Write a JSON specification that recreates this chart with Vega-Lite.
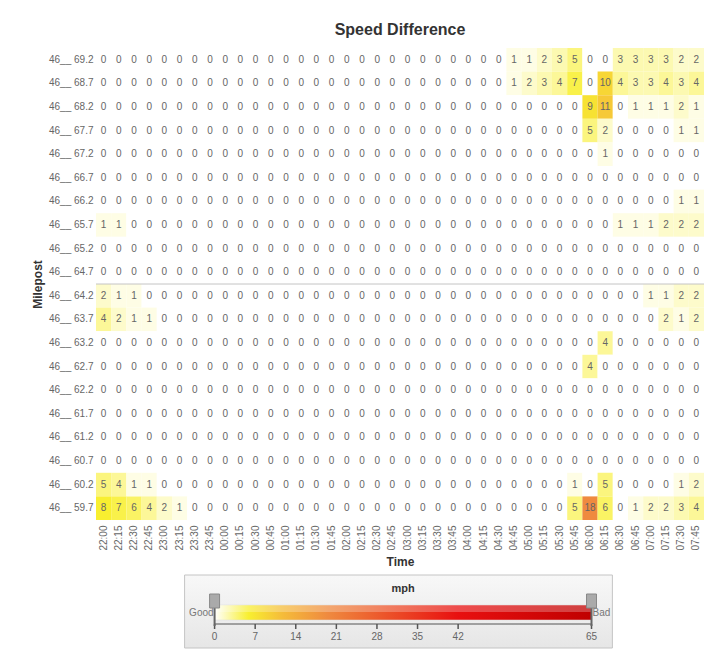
{
"$schema":"https://vega.github.io/schema/vega-lite/v6.json",
"padding":{"left":31,"top":22,"right":0,"bottom":0},
"background":"white",
"config":{"font":"Liberation Sans","view":{"stroke":null}},
"spacing":6,
"resolve":{"scale":{"x":"independent","y":"independent","color":"independent"}},
"vconcat":[
{
"title":{"text":"Speed Difference","fontSize":16,"fontWeight":"bold","color":"#333333","offset":10,"anchor":"middle"},
"width":608,"height":472,
"layer":[
{"data":{"values":[
{"m":"46__ 69.2","t":"22:00","v":0},{"m":"46__ 69.2","t":"22:15","v":0},{"m":"46__ 69.2","t":"22:30","v":0},{"m":"46__ 69.2","t":"22:45","v":0},{"m":"46__ 69.2","t":"23:00","v":0},{"m":"46__ 69.2","t":"23:15","v":0},{"m":"46__ 69.2","t":"23:30","v":0},{"m":"46__ 69.2","t":"23:45","v":0},{"m":"46__ 69.2","t":"00:00","v":0},{"m":"46__ 69.2","t":"00:15","v":0},{"m":"46__ 69.2","t":"00:30","v":0},{"m":"46__ 69.2","t":"00:45","v":0},{"m":"46__ 69.2","t":"01:00","v":0},{"m":"46__ 69.2","t":"01:15","v":0},{"m":"46__ 69.2","t":"01:30","v":0},{"m":"46__ 69.2","t":"01:45","v":0},{"m":"46__ 69.2","t":"02:00","v":0},{"m":"46__ 69.2","t":"02:15","v":0},{"m":"46__ 69.2","t":"02:30","v":0},{"m":"46__ 69.2","t":"02:45","v":0},{"m":"46__ 69.2","t":"03:00","v":0},{"m":"46__ 69.2","t":"03:15","v":0},{"m":"46__ 69.2","t":"03:30","v":0},{"m":"46__ 69.2","t":"03:45","v":0},{"m":"46__ 69.2","t":"04:00","v":0},{"m":"46__ 69.2","t":"04:15","v":0},{"m":"46__ 69.2","t":"04:30","v":0},{"m":"46__ 69.2","t":"04:45","v":1},{"m":"46__ 69.2","t":"05:00","v":1},{"m":"46__ 69.2","t":"05:15","v":2},{"m":"46__ 69.2","t":"05:30","v":3},{"m":"46__ 69.2","t":"05:45","v":5},{"m":"46__ 69.2","t":"06:00","v":0},{"m":"46__ 69.2","t":"06:15","v":0},{"m":"46__ 69.2","t":"06:30","v":3},{"m":"46__ 69.2","t":"06:45","v":3},{"m":"46__ 69.2","t":"07:00","v":3},{"m":"46__ 69.2","t":"07:15","v":3},{"m":"46__ 69.2","t":"07:30","v":2},{"m":"46__ 69.2","t":"07:45","v":2},
{"m":"46__ 68.7","t":"22:00","v":0},{"m":"46__ 68.7","t":"22:15","v":0},{"m":"46__ 68.7","t":"22:30","v":0},{"m":"46__ 68.7","t":"22:45","v":0},{"m":"46__ 68.7","t":"23:00","v":0},{"m":"46__ 68.7","t":"23:15","v":0},{"m":"46__ 68.7","t":"23:30","v":0},{"m":"46__ 68.7","t":"23:45","v":0},{"m":"46__ 68.7","t":"00:00","v":0},{"m":"46__ 68.7","t":"00:15","v":0},{"m":"46__ 68.7","t":"00:30","v":0},{"m":"46__ 68.7","t":"00:45","v":0},{"m":"46__ 68.7","t":"01:00","v":0},{"m":"46__ 68.7","t":"01:15","v":0},{"m":"46__ 68.7","t":"01:30","v":0},{"m":"46__ 68.7","t":"01:45","v":0},{"m":"46__ 68.7","t":"02:00","v":0},{"m":"46__ 68.7","t":"02:15","v":0},{"m":"46__ 68.7","t":"02:30","v":0},{"m":"46__ 68.7","t":"02:45","v":0},{"m":"46__ 68.7","t":"03:00","v":0},{"m":"46__ 68.7","t":"03:15","v":0},{"m":"46__ 68.7","t":"03:30","v":0},{"m":"46__ 68.7","t":"03:45","v":0},{"m":"46__ 68.7","t":"04:00","v":0},{"m":"46__ 68.7","t":"04:15","v":0},{"m":"46__ 68.7","t":"04:30","v":0},{"m":"46__ 68.7","t":"04:45","v":1},{"m":"46__ 68.7","t":"05:00","v":2},{"m":"46__ 68.7","t":"05:15","v":3},{"m":"46__ 68.7","t":"05:30","v":4},{"m":"46__ 68.7","t":"05:45","v":7},{"m":"46__ 68.7","t":"06:00","v":0},{"m":"46__ 68.7","t":"06:15","v":10},{"m":"46__ 68.7","t":"06:30","v":4},{"m":"46__ 68.7","t":"06:45","v":3},{"m":"46__ 68.7","t":"07:00","v":3},{"m":"46__ 68.7","t":"07:15","v":4},{"m":"46__ 68.7","t":"07:30","v":3},{"m":"46__ 68.7","t":"07:45","v":4},
{"m":"46__ 68.2","t":"22:00","v":0},{"m":"46__ 68.2","t":"22:15","v":0},{"m":"46__ 68.2","t":"22:30","v":0},{"m":"46__ 68.2","t":"22:45","v":0},{"m":"46__ 68.2","t":"23:00","v":0},{"m":"46__ 68.2","t":"23:15","v":0},{"m":"46__ 68.2","t":"23:30","v":0},{"m":"46__ 68.2","t":"23:45","v":0},{"m":"46__ 68.2","t":"00:00","v":0},{"m":"46__ 68.2","t":"00:15","v":0},{"m":"46__ 68.2","t":"00:30","v":0},{"m":"46__ 68.2","t":"00:45","v":0},{"m":"46__ 68.2","t":"01:00","v":0},{"m":"46__ 68.2","t":"01:15","v":0},{"m":"46__ 68.2","t":"01:30","v":0},{"m":"46__ 68.2","t":"01:45","v":0},{"m":"46__ 68.2","t":"02:00","v":0},{"m":"46__ 68.2","t":"02:15","v":0},{"m":"46__ 68.2","t":"02:30","v":0},{"m":"46__ 68.2","t":"02:45","v":0},{"m":"46__ 68.2","t":"03:00","v":0},{"m":"46__ 68.2","t":"03:15","v":0},{"m":"46__ 68.2","t":"03:30","v":0},{"m":"46__ 68.2","t":"03:45","v":0},{"m":"46__ 68.2","t":"04:00","v":0},{"m":"46__ 68.2","t":"04:15","v":0},{"m":"46__ 68.2","t":"04:30","v":0},{"m":"46__ 68.2","t":"04:45","v":0},{"m":"46__ 68.2","t":"05:00","v":0},{"m":"46__ 68.2","t":"05:15","v":0},{"m":"46__ 68.2","t":"05:30","v":0},{"m":"46__ 68.2","t":"05:45","v":0},{"m":"46__ 68.2","t":"06:00","v":9},{"m":"46__ 68.2","t":"06:15","v":11},{"m":"46__ 68.2","t":"06:30","v":0},{"m":"46__ 68.2","t":"06:45","v":1},{"m":"46__ 68.2","t":"07:00","v":1},{"m":"46__ 68.2","t":"07:15","v":1},{"m":"46__ 68.2","t":"07:30","v":2},{"m":"46__ 68.2","t":"07:45","v":1},
{"m":"46__ 67.7","t":"22:00","v":0},{"m":"46__ 67.7","t":"22:15","v":0},{"m":"46__ 67.7","t":"22:30","v":0},{"m":"46__ 67.7","t":"22:45","v":0},{"m":"46__ 67.7","t":"23:00","v":0},{"m":"46__ 67.7","t":"23:15","v":0},{"m":"46__ 67.7","t":"23:30","v":0},{"m":"46__ 67.7","t":"23:45","v":0},{"m":"46__ 67.7","t":"00:00","v":0},{"m":"46__ 67.7","t":"00:15","v":0},{"m":"46__ 67.7","t":"00:30","v":0},{"m":"46__ 67.7","t":"00:45","v":0},{"m":"46__ 67.7","t":"01:00","v":0},{"m":"46__ 67.7","t":"01:15","v":0},{"m":"46__ 67.7","t":"01:30","v":0},{"m":"46__ 67.7","t":"01:45","v":0},{"m":"46__ 67.7","t":"02:00","v":0},{"m":"46__ 67.7","t":"02:15","v":0},{"m":"46__ 67.7","t":"02:30","v":0},{"m":"46__ 67.7","t":"02:45","v":0},{"m":"46__ 67.7","t":"03:00","v":0},{"m":"46__ 67.7","t":"03:15","v":0},{"m":"46__ 67.7","t":"03:30","v":0},{"m":"46__ 67.7","t":"03:45","v":0},{"m":"46__ 67.7","t":"04:00","v":0},{"m":"46__ 67.7","t":"04:15","v":0},{"m":"46__ 67.7","t":"04:30","v":0},{"m":"46__ 67.7","t":"04:45","v":0},{"m":"46__ 67.7","t":"05:00","v":0},{"m":"46__ 67.7","t":"05:15","v":0},{"m":"46__ 67.7","t":"05:30","v":0},{"m":"46__ 67.7","t":"05:45","v":0},{"m":"46__ 67.7","t":"06:00","v":5},{"m":"46__ 67.7","t":"06:15","v":2},{"m":"46__ 67.7","t":"06:30","v":0},{"m":"46__ 67.7","t":"06:45","v":0},{"m":"46__ 67.7","t":"07:00","v":0},{"m":"46__ 67.7","t":"07:15","v":0},{"m":"46__ 67.7","t":"07:30","v":1},{"m":"46__ 67.7","t":"07:45","v":1},
{"m":"46__ 67.2","t":"22:00","v":0},{"m":"46__ 67.2","t":"22:15","v":0},{"m":"46__ 67.2","t":"22:30","v":0},{"m":"46__ 67.2","t":"22:45","v":0},{"m":"46__ 67.2","t":"23:00","v":0},{"m":"46__ 67.2","t":"23:15","v":0},{"m":"46__ 67.2","t":"23:30","v":0},{"m":"46__ 67.2","t":"23:45","v":0},{"m":"46__ 67.2","t":"00:00","v":0},{"m":"46__ 67.2","t":"00:15","v":0},{"m":"46__ 67.2","t":"00:30","v":0},{"m":"46__ 67.2","t":"00:45","v":0},{"m":"46__ 67.2","t":"01:00","v":0},{"m":"46__ 67.2","t":"01:15","v":0},{"m":"46__ 67.2","t":"01:30","v":0},{"m":"46__ 67.2","t":"01:45","v":0},{"m":"46__ 67.2","t":"02:00","v":0},{"m":"46__ 67.2","t":"02:15","v":0},{"m":"46__ 67.2","t":"02:30","v":0},{"m":"46__ 67.2","t":"02:45","v":0},{"m":"46__ 67.2","t":"03:00","v":0},{"m":"46__ 67.2","t":"03:15","v":0},{"m":"46__ 67.2","t":"03:30","v":0},{"m":"46__ 67.2","t":"03:45","v":0},{"m":"46__ 67.2","t":"04:00","v":0},{"m":"46__ 67.2","t":"04:15","v":0},{"m":"46__ 67.2","t":"04:30","v":0},{"m":"46__ 67.2","t":"04:45","v":0},{"m":"46__ 67.2","t":"05:00","v":0},{"m":"46__ 67.2","t":"05:15","v":0},{"m":"46__ 67.2","t":"05:30","v":0},{"m":"46__ 67.2","t":"05:45","v":0},{"m":"46__ 67.2","t":"06:00","v":0},{"m":"46__ 67.2","t":"06:15","v":1},{"m":"46__ 67.2","t":"06:30","v":0},{"m":"46__ 67.2","t":"06:45","v":0},{"m":"46__ 67.2","t":"07:00","v":0},{"m":"46__ 67.2","t":"07:15","v":0},{"m":"46__ 67.2","t":"07:30","v":0},{"m":"46__ 67.2","t":"07:45","v":0},
{"m":"46__ 66.7","t":"22:00","v":0},{"m":"46__ 66.7","t":"22:15","v":0},{"m":"46__ 66.7","t":"22:30","v":0},{"m":"46__ 66.7","t":"22:45","v":0},{"m":"46__ 66.7","t":"23:00","v":0},{"m":"46__ 66.7","t":"23:15","v":0},{"m":"46__ 66.7","t":"23:30","v":0},{"m":"46__ 66.7","t":"23:45","v":0},{"m":"46__ 66.7","t":"00:00","v":0},{"m":"46__ 66.7","t":"00:15","v":0},{"m":"46__ 66.7","t":"00:30","v":0},{"m":"46__ 66.7","t":"00:45","v":0},{"m":"46__ 66.7","t":"01:00","v":0},{"m":"46__ 66.7","t":"01:15","v":0},{"m":"46__ 66.7","t":"01:30","v":0},{"m":"46__ 66.7","t":"01:45","v":0},{"m":"46__ 66.7","t":"02:00","v":0},{"m":"46__ 66.7","t":"02:15","v":0},{"m":"46__ 66.7","t":"02:30","v":0},{"m":"46__ 66.7","t":"02:45","v":0},{"m":"46__ 66.7","t":"03:00","v":0},{"m":"46__ 66.7","t":"03:15","v":0},{"m":"46__ 66.7","t":"03:30","v":0},{"m":"46__ 66.7","t":"03:45","v":0},{"m":"46__ 66.7","t":"04:00","v":0},{"m":"46__ 66.7","t":"04:15","v":0},{"m":"46__ 66.7","t":"04:30","v":0},{"m":"46__ 66.7","t":"04:45","v":0},{"m":"46__ 66.7","t":"05:00","v":0},{"m":"46__ 66.7","t":"05:15","v":0},{"m":"46__ 66.7","t":"05:30","v":0},{"m":"46__ 66.7","t":"05:45","v":0},{"m":"46__ 66.7","t":"06:00","v":0},{"m":"46__ 66.7","t":"06:15","v":0},{"m":"46__ 66.7","t":"06:30","v":0},{"m":"46__ 66.7","t":"06:45","v":0},{"m":"46__ 66.7","t":"07:00","v":0},{"m":"46__ 66.7","t":"07:15","v":0},{"m":"46__ 66.7","t":"07:30","v":0},{"m":"46__ 66.7","t":"07:45","v":0},
{"m":"46__ 66.2","t":"22:00","v":0},{"m":"46__ 66.2","t":"22:15","v":0},{"m":"46__ 66.2","t":"22:30","v":0},{"m":"46__ 66.2","t":"22:45","v":0},{"m":"46__ 66.2","t":"23:00","v":0},{"m":"46__ 66.2","t":"23:15","v":0},{"m":"46__ 66.2","t":"23:30","v":0},{"m":"46__ 66.2","t":"23:45","v":0},{"m":"46__ 66.2","t":"00:00","v":0},{"m":"46__ 66.2","t":"00:15","v":0},{"m":"46__ 66.2","t":"00:30","v":0},{"m":"46__ 66.2","t":"00:45","v":0},{"m":"46__ 66.2","t":"01:00","v":0},{"m":"46__ 66.2","t":"01:15","v":0},{"m":"46__ 66.2","t":"01:30","v":0},{"m":"46__ 66.2","t":"01:45","v":0},{"m":"46__ 66.2","t":"02:00","v":0},{"m":"46__ 66.2","t":"02:15","v":0},{"m":"46__ 66.2","t":"02:30","v":0},{"m":"46__ 66.2","t":"02:45","v":0},{"m":"46__ 66.2","t":"03:00","v":0},{"m":"46__ 66.2","t":"03:15","v":0},{"m":"46__ 66.2","t":"03:30","v":0},{"m":"46__ 66.2","t":"03:45","v":0},{"m":"46__ 66.2","t":"04:00","v":0},{"m":"46__ 66.2","t":"04:15","v":0},{"m":"46__ 66.2","t":"04:30","v":0},{"m":"46__ 66.2","t":"04:45","v":0},{"m":"46__ 66.2","t":"05:00","v":0},{"m":"46__ 66.2","t":"05:15","v":0},{"m":"46__ 66.2","t":"05:30","v":0},{"m":"46__ 66.2","t":"05:45","v":0},{"m":"46__ 66.2","t":"06:00","v":0},{"m":"46__ 66.2","t":"06:15","v":0},{"m":"46__ 66.2","t":"06:30","v":0},{"m":"46__ 66.2","t":"06:45","v":0},{"m":"46__ 66.2","t":"07:00","v":0},{"m":"46__ 66.2","t":"07:15","v":0},{"m":"46__ 66.2","t":"07:30","v":1},{"m":"46__ 66.2","t":"07:45","v":1},
{"m":"46__ 65.7","t":"22:00","v":1},{"m":"46__ 65.7","t":"22:15","v":1},{"m":"46__ 65.7","t":"22:30","v":0},{"m":"46__ 65.7","t":"22:45","v":0},{"m":"46__ 65.7","t":"23:00","v":0},{"m":"46__ 65.7","t":"23:15","v":0},{"m":"46__ 65.7","t":"23:30","v":0},{"m":"46__ 65.7","t":"23:45","v":0},{"m":"46__ 65.7","t":"00:00","v":0},{"m":"46__ 65.7","t":"00:15","v":0},{"m":"46__ 65.7","t":"00:30","v":0},{"m":"46__ 65.7","t":"00:45","v":0},{"m":"46__ 65.7","t":"01:00","v":0},{"m":"46__ 65.7","t":"01:15","v":0},{"m":"46__ 65.7","t":"01:30","v":0},{"m":"46__ 65.7","t":"01:45","v":0},{"m":"46__ 65.7","t":"02:00","v":0},{"m":"46__ 65.7","t":"02:15","v":0},{"m":"46__ 65.7","t":"02:30","v":0},{"m":"46__ 65.7","t":"02:45","v":0},{"m":"46__ 65.7","t":"03:00","v":0},{"m":"46__ 65.7","t":"03:15","v":0},{"m":"46__ 65.7","t":"03:30","v":0},{"m":"46__ 65.7","t":"03:45","v":0},{"m":"46__ 65.7","t":"04:00","v":0},{"m":"46__ 65.7","t":"04:15","v":0},{"m":"46__ 65.7","t":"04:30","v":0},{"m":"46__ 65.7","t":"04:45","v":0},{"m":"46__ 65.7","t":"05:00","v":0},{"m":"46__ 65.7","t":"05:15","v":0},{"m":"46__ 65.7","t":"05:30","v":0},{"m":"46__ 65.7","t":"05:45","v":0},{"m":"46__ 65.7","t":"06:00","v":0},{"m":"46__ 65.7","t":"06:15","v":0},{"m":"46__ 65.7","t":"06:30","v":1},{"m":"46__ 65.7","t":"06:45","v":1},{"m":"46__ 65.7","t":"07:00","v":1},{"m":"46__ 65.7","t":"07:15","v":2},{"m":"46__ 65.7","t":"07:30","v":2},{"m":"46__ 65.7","t":"07:45","v":2},
{"m":"46__ 65.2","t":"22:00","v":0},{"m":"46__ 65.2","t":"22:15","v":0},{"m":"46__ 65.2","t":"22:30","v":0},{"m":"46__ 65.2","t":"22:45","v":0},{"m":"46__ 65.2","t":"23:00","v":0},{"m":"46__ 65.2","t":"23:15","v":0},{"m":"46__ 65.2","t":"23:30","v":0},{"m":"46__ 65.2","t":"23:45","v":0},{"m":"46__ 65.2","t":"00:00","v":0},{"m":"46__ 65.2","t":"00:15","v":0},{"m":"46__ 65.2","t":"00:30","v":0},{"m":"46__ 65.2","t":"00:45","v":0},{"m":"46__ 65.2","t":"01:00","v":0},{"m":"46__ 65.2","t":"01:15","v":0},{"m":"46__ 65.2","t":"01:30","v":0},{"m":"46__ 65.2","t":"01:45","v":0},{"m":"46__ 65.2","t":"02:00","v":0},{"m":"46__ 65.2","t":"02:15","v":0},{"m":"46__ 65.2","t":"02:30","v":0},{"m":"46__ 65.2","t":"02:45","v":0},{"m":"46__ 65.2","t":"03:00","v":0},{"m":"46__ 65.2","t":"03:15","v":0},{"m":"46__ 65.2","t":"03:30","v":0},{"m":"46__ 65.2","t":"03:45","v":0},{"m":"46__ 65.2","t":"04:00","v":0},{"m":"46__ 65.2","t":"04:15","v":0},{"m":"46__ 65.2","t":"04:30","v":0},{"m":"46__ 65.2","t":"04:45","v":0},{"m":"46__ 65.2","t":"05:00","v":0},{"m":"46__ 65.2","t":"05:15","v":0},{"m":"46__ 65.2","t":"05:30","v":0},{"m":"46__ 65.2","t":"05:45","v":0},{"m":"46__ 65.2","t":"06:00","v":0},{"m":"46__ 65.2","t":"06:15","v":0},{"m":"46__ 65.2","t":"06:30","v":0},{"m":"46__ 65.2","t":"06:45","v":0},{"m":"46__ 65.2","t":"07:00","v":0},{"m":"46__ 65.2","t":"07:15","v":0},{"m":"46__ 65.2","t":"07:30","v":0},{"m":"46__ 65.2","t":"07:45","v":0},
{"m":"46__ 64.7","t":"22:00","v":0},{"m":"46__ 64.7","t":"22:15","v":0},{"m":"46__ 64.7","t":"22:30","v":0},{"m":"46__ 64.7","t":"22:45","v":0},{"m":"46__ 64.7","t":"23:00","v":0},{"m":"46__ 64.7","t":"23:15","v":0},{"m":"46__ 64.7","t":"23:30","v":0},{"m":"46__ 64.7","t":"23:45","v":0},{"m":"46__ 64.7","t":"00:00","v":0},{"m":"46__ 64.7","t":"00:15","v":0},{"m":"46__ 64.7","t":"00:30","v":0},{"m":"46__ 64.7","t":"00:45","v":0},{"m":"46__ 64.7","t":"01:00","v":0},{"m":"46__ 64.7","t":"01:15","v":0},{"m":"46__ 64.7","t":"01:30","v":0},{"m":"46__ 64.7","t":"01:45","v":0},{"m":"46__ 64.7","t":"02:00","v":0},{"m":"46__ 64.7","t":"02:15","v":0},{"m":"46__ 64.7","t":"02:30","v":0},{"m":"46__ 64.7","t":"02:45","v":0},{"m":"46__ 64.7","t":"03:00","v":0},{"m":"46__ 64.7","t":"03:15","v":0},{"m":"46__ 64.7","t":"03:30","v":0},{"m":"46__ 64.7","t":"03:45","v":0},{"m":"46__ 64.7","t":"04:00","v":0},{"m":"46__ 64.7","t":"04:15","v":0},{"m":"46__ 64.7","t":"04:30","v":0},{"m":"46__ 64.7","t":"04:45","v":0},{"m":"46__ 64.7","t":"05:00","v":0},{"m":"46__ 64.7","t":"05:15","v":0},{"m":"46__ 64.7","t":"05:30","v":0},{"m":"46__ 64.7","t":"05:45","v":0},{"m":"46__ 64.7","t":"06:00","v":0},{"m":"46__ 64.7","t":"06:15","v":0},{"m":"46__ 64.7","t":"06:30","v":0},{"m":"46__ 64.7","t":"06:45","v":0},{"m":"46__ 64.7","t":"07:00","v":0},{"m":"46__ 64.7","t":"07:15","v":0},{"m":"46__ 64.7","t":"07:30","v":0},{"m":"46__ 64.7","t":"07:45","v":0},
{"m":"46__ 64.2","t":"22:00","v":2},{"m":"46__ 64.2","t":"22:15","v":1},{"m":"46__ 64.2","t":"22:30","v":1},{"m":"46__ 64.2","t":"22:45","v":0},{"m":"46__ 64.2","t":"23:00","v":0},{"m":"46__ 64.2","t":"23:15","v":0},{"m":"46__ 64.2","t":"23:30","v":0},{"m":"46__ 64.2","t":"23:45","v":0},{"m":"46__ 64.2","t":"00:00","v":0},{"m":"46__ 64.2","t":"00:15","v":0},{"m":"46__ 64.2","t":"00:30","v":0},{"m":"46__ 64.2","t":"00:45","v":0},{"m":"46__ 64.2","t":"01:00","v":0},{"m":"46__ 64.2","t":"01:15","v":0},{"m":"46__ 64.2","t":"01:30","v":0},{"m":"46__ 64.2","t":"01:45","v":0},{"m":"46__ 64.2","t":"02:00","v":0},{"m":"46__ 64.2","t":"02:15","v":0},{"m":"46__ 64.2","t":"02:30","v":0},{"m":"46__ 64.2","t":"02:45","v":0},{"m":"46__ 64.2","t":"03:00","v":0},{"m":"46__ 64.2","t":"03:15","v":0},{"m":"46__ 64.2","t":"03:30","v":0},{"m":"46__ 64.2","t":"03:45","v":0},{"m":"46__ 64.2","t":"04:00","v":0},{"m":"46__ 64.2","t":"04:15","v":0},{"m":"46__ 64.2","t":"04:30","v":0},{"m":"46__ 64.2","t":"04:45","v":0},{"m":"46__ 64.2","t":"05:00","v":0},{"m":"46__ 64.2","t":"05:15","v":0},{"m":"46__ 64.2","t":"05:30","v":0},{"m":"46__ 64.2","t":"05:45","v":0},{"m":"46__ 64.2","t":"06:00","v":0},{"m":"46__ 64.2","t":"06:15","v":0},{"m":"46__ 64.2","t":"06:30","v":0},{"m":"46__ 64.2","t":"06:45","v":0},{"m":"46__ 64.2","t":"07:00","v":1},{"m":"46__ 64.2","t":"07:15","v":1},{"m":"46__ 64.2","t":"07:30","v":2},{"m":"46__ 64.2","t":"07:45","v":2},
{"m":"46__ 63.7","t":"22:00","v":4},{"m":"46__ 63.7","t":"22:15","v":2},{"m":"46__ 63.7","t":"22:30","v":1},{"m":"46__ 63.7","t":"22:45","v":1},{"m":"46__ 63.7","t":"23:00","v":0},{"m":"46__ 63.7","t":"23:15","v":0},{"m":"46__ 63.7","t":"23:30","v":0},{"m":"46__ 63.7","t":"23:45","v":0},{"m":"46__ 63.7","t":"00:00","v":0},{"m":"46__ 63.7","t":"00:15","v":0},{"m":"46__ 63.7","t":"00:30","v":0},{"m":"46__ 63.7","t":"00:45","v":0},{"m":"46__ 63.7","t":"01:00","v":0},{"m":"46__ 63.7","t":"01:15","v":0},{"m":"46__ 63.7","t":"01:30","v":0},{"m":"46__ 63.7","t":"01:45","v":0},{"m":"46__ 63.7","t":"02:00","v":0},{"m":"46__ 63.7","t":"02:15","v":0},{"m":"46__ 63.7","t":"02:30","v":0},{"m":"46__ 63.7","t":"02:45","v":0},{"m":"46__ 63.7","t":"03:00","v":0},{"m":"46__ 63.7","t":"03:15","v":0},{"m":"46__ 63.7","t":"03:30","v":0},{"m":"46__ 63.7","t":"03:45","v":0},{"m":"46__ 63.7","t":"04:00","v":0},{"m":"46__ 63.7","t":"04:15","v":0},{"m":"46__ 63.7","t":"04:30","v":0},{"m":"46__ 63.7","t":"04:45","v":0},{"m":"46__ 63.7","t":"05:00","v":0},{"m":"46__ 63.7","t":"05:15","v":0},{"m":"46__ 63.7","t":"05:30","v":0},{"m":"46__ 63.7","t":"05:45","v":0},{"m":"46__ 63.7","t":"06:00","v":0},{"m":"46__ 63.7","t":"06:15","v":0},{"m":"46__ 63.7","t":"06:30","v":0},{"m":"46__ 63.7","t":"06:45","v":0},{"m":"46__ 63.7","t":"07:00","v":0},{"m":"46__ 63.7","t":"07:15","v":2},{"m":"46__ 63.7","t":"07:30","v":1},{"m":"46__ 63.7","t":"07:45","v":2},
{"m":"46__ 63.2","t":"22:00","v":0},{"m":"46__ 63.2","t":"22:15","v":0},{"m":"46__ 63.2","t":"22:30","v":0},{"m":"46__ 63.2","t":"22:45","v":0},{"m":"46__ 63.2","t":"23:00","v":0},{"m":"46__ 63.2","t":"23:15","v":0},{"m":"46__ 63.2","t":"23:30","v":0},{"m":"46__ 63.2","t":"23:45","v":0},{"m":"46__ 63.2","t":"00:00","v":0},{"m":"46__ 63.2","t":"00:15","v":0},{"m":"46__ 63.2","t":"00:30","v":0},{"m":"46__ 63.2","t":"00:45","v":0},{"m":"46__ 63.2","t":"01:00","v":0},{"m":"46__ 63.2","t":"01:15","v":0},{"m":"46__ 63.2","t":"01:30","v":0},{"m":"46__ 63.2","t":"01:45","v":0},{"m":"46__ 63.2","t":"02:00","v":0},{"m":"46__ 63.2","t":"02:15","v":0},{"m":"46__ 63.2","t":"02:30","v":0},{"m":"46__ 63.2","t":"02:45","v":0},{"m":"46__ 63.2","t":"03:00","v":0},{"m":"46__ 63.2","t":"03:15","v":0},{"m":"46__ 63.2","t":"03:30","v":0},{"m":"46__ 63.2","t":"03:45","v":0},{"m":"46__ 63.2","t":"04:00","v":0},{"m":"46__ 63.2","t":"04:15","v":0},{"m":"46__ 63.2","t":"04:30","v":0},{"m":"46__ 63.2","t":"04:45","v":0},{"m":"46__ 63.2","t":"05:00","v":0},{"m":"46__ 63.2","t":"05:15","v":0},{"m":"46__ 63.2","t":"05:30","v":0},{"m":"46__ 63.2","t":"05:45","v":0},{"m":"46__ 63.2","t":"06:00","v":0},{"m":"46__ 63.2","t":"06:15","v":4},{"m":"46__ 63.2","t":"06:30","v":0},{"m":"46__ 63.2","t":"06:45","v":0},{"m":"46__ 63.2","t":"07:00","v":0},{"m":"46__ 63.2","t":"07:15","v":0},{"m":"46__ 63.2","t":"07:30","v":0},{"m":"46__ 63.2","t":"07:45","v":0},
{"m":"46__ 62.7","t":"22:00","v":0},{"m":"46__ 62.7","t":"22:15","v":0},{"m":"46__ 62.7","t":"22:30","v":0},{"m":"46__ 62.7","t":"22:45","v":0},{"m":"46__ 62.7","t":"23:00","v":0},{"m":"46__ 62.7","t":"23:15","v":0},{"m":"46__ 62.7","t":"23:30","v":0},{"m":"46__ 62.7","t":"23:45","v":0},{"m":"46__ 62.7","t":"00:00","v":0},{"m":"46__ 62.7","t":"00:15","v":0},{"m":"46__ 62.7","t":"00:30","v":0},{"m":"46__ 62.7","t":"00:45","v":0},{"m":"46__ 62.7","t":"01:00","v":0},{"m":"46__ 62.7","t":"01:15","v":0},{"m":"46__ 62.7","t":"01:30","v":0},{"m":"46__ 62.7","t":"01:45","v":0},{"m":"46__ 62.7","t":"02:00","v":0},{"m":"46__ 62.7","t":"02:15","v":0},{"m":"46__ 62.7","t":"02:30","v":0},{"m":"46__ 62.7","t":"02:45","v":0},{"m":"46__ 62.7","t":"03:00","v":0},{"m":"46__ 62.7","t":"03:15","v":0},{"m":"46__ 62.7","t":"03:30","v":0},{"m":"46__ 62.7","t":"03:45","v":0},{"m":"46__ 62.7","t":"04:00","v":0},{"m":"46__ 62.7","t":"04:15","v":0},{"m":"46__ 62.7","t":"04:30","v":0},{"m":"46__ 62.7","t":"04:45","v":0},{"m":"46__ 62.7","t":"05:00","v":0},{"m":"46__ 62.7","t":"05:15","v":0},{"m":"46__ 62.7","t":"05:30","v":0},{"m":"46__ 62.7","t":"05:45","v":0},{"m":"46__ 62.7","t":"06:00","v":4},{"m":"46__ 62.7","t":"06:15","v":0},{"m":"46__ 62.7","t":"06:30","v":0},{"m":"46__ 62.7","t":"06:45","v":0},{"m":"46__ 62.7","t":"07:00","v":0},{"m":"46__ 62.7","t":"07:15","v":0},{"m":"46__ 62.7","t":"07:30","v":0},{"m":"46__ 62.7","t":"07:45","v":0},
{"m":"46__ 62.2","t":"22:00","v":0},{"m":"46__ 62.2","t":"22:15","v":0},{"m":"46__ 62.2","t":"22:30","v":0},{"m":"46__ 62.2","t":"22:45","v":0},{"m":"46__ 62.2","t":"23:00","v":0},{"m":"46__ 62.2","t":"23:15","v":0},{"m":"46__ 62.2","t":"23:30","v":0},{"m":"46__ 62.2","t":"23:45","v":0},{"m":"46__ 62.2","t":"00:00","v":0},{"m":"46__ 62.2","t":"00:15","v":0},{"m":"46__ 62.2","t":"00:30","v":0},{"m":"46__ 62.2","t":"00:45","v":0},{"m":"46__ 62.2","t":"01:00","v":0},{"m":"46__ 62.2","t":"01:15","v":0},{"m":"46__ 62.2","t":"01:30","v":0},{"m":"46__ 62.2","t":"01:45","v":0},{"m":"46__ 62.2","t":"02:00","v":0},{"m":"46__ 62.2","t":"02:15","v":0},{"m":"46__ 62.2","t":"02:30","v":0},{"m":"46__ 62.2","t":"02:45","v":0},{"m":"46__ 62.2","t":"03:00","v":0},{"m":"46__ 62.2","t":"03:15","v":0},{"m":"46__ 62.2","t":"03:30","v":0},{"m":"46__ 62.2","t":"03:45","v":0},{"m":"46__ 62.2","t":"04:00","v":0},{"m":"46__ 62.2","t":"04:15","v":0},{"m":"46__ 62.2","t":"04:30","v":0},{"m":"46__ 62.2","t":"04:45","v":0},{"m":"46__ 62.2","t":"05:00","v":0},{"m":"46__ 62.2","t":"05:15","v":0},{"m":"46__ 62.2","t":"05:30","v":0},{"m":"46__ 62.2","t":"05:45","v":0},{"m":"46__ 62.2","t":"06:00","v":0},{"m":"46__ 62.2","t":"06:15","v":0},{"m":"46__ 62.2","t":"06:30","v":0},{"m":"46__ 62.2","t":"06:45","v":0},{"m":"46__ 62.2","t":"07:00","v":0},{"m":"46__ 62.2","t":"07:15","v":0},{"m":"46__ 62.2","t":"07:30","v":0},{"m":"46__ 62.2","t":"07:45","v":0},
{"m":"46__ 61.7","t":"22:00","v":0},{"m":"46__ 61.7","t":"22:15","v":0},{"m":"46__ 61.7","t":"22:30","v":0},{"m":"46__ 61.7","t":"22:45","v":0},{"m":"46__ 61.7","t":"23:00","v":0},{"m":"46__ 61.7","t":"23:15","v":0},{"m":"46__ 61.7","t":"23:30","v":0},{"m":"46__ 61.7","t":"23:45","v":0},{"m":"46__ 61.7","t":"00:00","v":0},{"m":"46__ 61.7","t":"00:15","v":0},{"m":"46__ 61.7","t":"00:30","v":0},{"m":"46__ 61.7","t":"00:45","v":0},{"m":"46__ 61.7","t":"01:00","v":0},{"m":"46__ 61.7","t":"01:15","v":0},{"m":"46__ 61.7","t":"01:30","v":0},{"m":"46__ 61.7","t":"01:45","v":0},{"m":"46__ 61.7","t":"02:00","v":0},{"m":"46__ 61.7","t":"02:15","v":0},{"m":"46__ 61.7","t":"02:30","v":0},{"m":"46__ 61.7","t":"02:45","v":0},{"m":"46__ 61.7","t":"03:00","v":0},{"m":"46__ 61.7","t":"03:15","v":0},{"m":"46__ 61.7","t":"03:30","v":0},{"m":"46__ 61.7","t":"03:45","v":0},{"m":"46__ 61.7","t":"04:00","v":0},{"m":"46__ 61.7","t":"04:15","v":0},{"m":"46__ 61.7","t":"04:30","v":0},{"m":"46__ 61.7","t":"04:45","v":0},{"m":"46__ 61.7","t":"05:00","v":0},{"m":"46__ 61.7","t":"05:15","v":0},{"m":"46__ 61.7","t":"05:30","v":0},{"m":"46__ 61.7","t":"05:45","v":0},{"m":"46__ 61.7","t":"06:00","v":0},{"m":"46__ 61.7","t":"06:15","v":0},{"m":"46__ 61.7","t":"06:30","v":0},{"m":"46__ 61.7","t":"06:45","v":0},{"m":"46__ 61.7","t":"07:00","v":0},{"m":"46__ 61.7","t":"07:15","v":0},{"m":"46__ 61.7","t":"07:30","v":0},{"m":"46__ 61.7","t":"07:45","v":0},
{"m":"46__ 61.2","t":"22:00","v":0},{"m":"46__ 61.2","t":"22:15","v":0},{"m":"46__ 61.2","t":"22:30","v":0},{"m":"46__ 61.2","t":"22:45","v":0},{"m":"46__ 61.2","t":"23:00","v":0},{"m":"46__ 61.2","t":"23:15","v":0},{"m":"46__ 61.2","t":"23:30","v":0},{"m":"46__ 61.2","t":"23:45","v":0},{"m":"46__ 61.2","t":"00:00","v":0},{"m":"46__ 61.2","t":"00:15","v":0},{"m":"46__ 61.2","t":"00:30","v":0},{"m":"46__ 61.2","t":"00:45","v":0},{"m":"46__ 61.2","t":"01:00","v":0},{"m":"46__ 61.2","t":"01:15","v":0},{"m":"46__ 61.2","t":"01:30","v":0},{"m":"46__ 61.2","t":"01:45","v":0},{"m":"46__ 61.2","t":"02:00","v":0},{"m":"46__ 61.2","t":"02:15","v":0},{"m":"46__ 61.2","t":"02:30","v":0},{"m":"46__ 61.2","t":"02:45","v":0},{"m":"46__ 61.2","t":"03:00","v":0},{"m":"46__ 61.2","t":"03:15","v":0},{"m":"46__ 61.2","t":"03:30","v":0},{"m":"46__ 61.2","t":"03:45","v":0},{"m":"46__ 61.2","t":"04:00","v":0},{"m":"46__ 61.2","t":"04:15","v":0},{"m":"46__ 61.2","t":"04:30","v":0},{"m":"46__ 61.2","t":"04:45","v":0},{"m":"46__ 61.2","t":"05:00","v":0},{"m":"46__ 61.2","t":"05:15","v":0},{"m":"46__ 61.2","t":"05:30","v":0},{"m":"46__ 61.2","t":"05:45","v":0},{"m":"46__ 61.2","t":"06:00","v":0},{"m":"46__ 61.2","t":"06:15","v":0},{"m":"46__ 61.2","t":"06:30","v":0},{"m":"46__ 61.2","t":"06:45","v":0},{"m":"46__ 61.2","t":"07:00","v":0},{"m":"46__ 61.2","t":"07:15","v":0},{"m":"46__ 61.2","t":"07:30","v":0},{"m":"46__ 61.2","t":"07:45","v":0},
{"m":"46__ 60.7","t":"22:00","v":0},{"m":"46__ 60.7","t":"22:15","v":0},{"m":"46__ 60.7","t":"22:30","v":0},{"m":"46__ 60.7","t":"22:45","v":0},{"m":"46__ 60.7","t":"23:00","v":0},{"m":"46__ 60.7","t":"23:15","v":0},{"m":"46__ 60.7","t":"23:30","v":0},{"m":"46__ 60.7","t":"23:45","v":0},{"m":"46__ 60.7","t":"00:00","v":0},{"m":"46__ 60.7","t":"00:15","v":0},{"m":"46__ 60.7","t":"00:30","v":0},{"m":"46__ 60.7","t":"00:45","v":0},{"m":"46__ 60.7","t":"01:00","v":0},{"m":"46__ 60.7","t":"01:15","v":0},{"m":"46__ 60.7","t":"01:30","v":0},{"m":"46__ 60.7","t":"01:45","v":0},{"m":"46__ 60.7","t":"02:00","v":0},{"m":"46__ 60.7","t":"02:15","v":0},{"m":"46__ 60.7","t":"02:30","v":0},{"m":"46__ 60.7","t":"02:45","v":0},{"m":"46__ 60.7","t":"03:00","v":0},{"m":"46__ 60.7","t":"03:15","v":0},{"m":"46__ 60.7","t":"03:30","v":0},{"m":"46__ 60.7","t":"03:45","v":0},{"m":"46__ 60.7","t":"04:00","v":0},{"m":"46__ 60.7","t":"04:15","v":0},{"m":"46__ 60.7","t":"04:30","v":0},{"m":"46__ 60.7","t":"04:45","v":0},{"m":"46__ 60.7","t":"05:00","v":0},{"m":"46__ 60.7","t":"05:15","v":0},{"m":"46__ 60.7","t":"05:30","v":0},{"m":"46__ 60.7","t":"05:45","v":0},{"m":"46__ 60.7","t":"06:00","v":0},{"m":"46__ 60.7","t":"06:15","v":0},{"m":"46__ 60.7","t":"06:30","v":0},{"m":"46__ 60.7","t":"06:45","v":0},{"m":"46__ 60.7","t":"07:00","v":0},{"m":"46__ 60.7","t":"07:15","v":0},{"m":"46__ 60.7","t":"07:30","v":0},{"m":"46__ 60.7","t":"07:45","v":0},
{"m":"46__ 60.2","t":"22:00","v":5},{"m":"46__ 60.2","t":"22:15","v":4},{"m":"46__ 60.2","t":"22:30","v":1},{"m":"46__ 60.2","t":"22:45","v":1},{"m":"46__ 60.2","t":"23:00","v":0},{"m":"46__ 60.2","t":"23:15","v":0},{"m":"46__ 60.2","t":"23:30","v":0},{"m":"46__ 60.2","t":"23:45","v":0},{"m":"46__ 60.2","t":"00:00","v":0},{"m":"46__ 60.2","t":"00:15","v":0},{"m":"46__ 60.2","t":"00:30","v":0},{"m":"46__ 60.2","t":"00:45","v":0},{"m":"46__ 60.2","t":"01:00","v":0},{"m":"46__ 60.2","t":"01:15","v":0},{"m":"46__ 60.2","t":"01:30","v":0},{"m":"46__ 60.2","t":"01:45","v":0},{"m":"46__ 60.2","t":"02:00","v":0},{"m":"46__ 60.2","t":"02:15","v":0},{"m":"46__ 60.2","t":"02:30","v":0},{"m":"46__ 60.2","t":"02:45","v":0},{"m":"46__ 60.2","t":"03:00","v":0},{"m":"46__ 60.2","t":"03:15","v":0},{"m":"46__ 60.2","t":"03:30","v":0},{"m":"46__ 60.2","t":"03:45","v":0},{"m":"46__ 60.2","t":"04:00","v":0},{"m":"46__ 60.2","t":"04:15","v":0},{"m":"46__ 60.2","t":"04:30","v":0},{"m":"46__ 60.2","t":"04:45","v":0},{"m":"46__ 60.2","t":"05:00","v":0},{"m":"46__ 60.2","t":"05:15","v":0},{"m":"46__ 60.2","t":"05:30","v":0},{"m":"46__ 60.2","t":"05:45","v":1},{"m":"46__ 60.2","t":"06:00","v":0},{"m":"46__ 60.2","t":"06:15","v":5},{"m":"46__ 60.2","t":"06:30","v":0},{"m":"46__ 60.2","t":"06:45","v":0},{"m":"46__ 60.2","t":"07:00","v":0},{"m":"46__ 60.2","t":"07:15","v":0},{"m":"46__ 60.2","t":"07:30","v":1},{"m":"46__ 60.2","t":"07:45","v":2},
{"m":"46__ 59.7","t":"22:00","v":8},{"m":"46__ 59.7","t":"22:15","v":7},{"m":"46__ 59.7","t":"22:30","v":6},{"m":"46__ 59.7","t":"22:45","v":4},{"m":"46__ 59.7","t":"23:00","v":2},{"m":"46__ 59.7","t":"23:15","v":1},{"m":"46__ 59.7","t":"23:30","v":0},{"m":"46__ 59.7","t":"23:45","v":0},{"m":"46__ 59.7","t":"00:00","v":0},{"m":"46__ 59.7","t":"00:15","v":0},{"m":"46__ 59.7","t":"00:30","v":0},{"m":"46__ 59.7","t":"00:45","v":0},{"m":"46__ 59.7","t":"01:00","v":0},{"m":"46__ 59.7","t":"01:15","v":0},{"m":"46__ 59.7","t":"01:30","v":0},{"m":"46__ 59.7","t":"01:45","v":0},{"m":"46__ 59.7","t":"02:00","v":0},{"m":"46__ 59.7","t":"02:15","v":0},{"m":"46__ 59.7","t":"02:30","v":0},{"m":"46__ 59.7","t":"02:45","v":0},{"m":"46__ 59.7","t":"03:00","v":0},{"m":"46__ 59.7","t":"03:15","v":0},{"m":"46__ 59.7","t":"03:30","v":0},{"m":"46__ 59.7","t":"03:45","v":0},{"m":"46__ 59.7","t":"04:00","v":0},{"m":"46__ 59.7","t":"04:15","v":0},{"m":"46__ 59.7","t":"04:30","v":0},{"m":"46__ 59.7","t":"04:45","v":0},{"m":"46__ 59.7","t":"05:00","v":0},{"m":"46__ 59.7","t":"05:15","v":0},{"m":"46__ 59.7","t":"05:30","v":0},{"m":"46__ 59.7","t":"05:45","v":5},{"m":"46__ 59.7","t":"06:00","v":18},{"m":"46__ 59.7","t":"06:15","v":6},{"m":"46__ 59.7","t":"06:30","v":0},{"m":"46__ 59.7","t":"06:45","v":1},{"m":"46__ 59.7","t":"07:00","v":2},{"m":"46__ 59.7","t":"07:15","v":2},{"m":"46__ 59.7","t":"07:30","v":3},{"m":"46__ 59.7","t":"07:45","v":4}
]},
"layer":[
{"mark":{"type":"rect"},
 "encoding":{
  "x":{"field":"t","type":"ordinal","sort":null,"title":"Time","scale":{"paddingInner":0,"paddingOuter":0},
       "axis":{"labelAngle":270,"domain":false,"ticks":false,"labelPadding":5,"labelFontSize":10,"labelColor":"#666666","titleFontSize":12,"titleFontWeight":"bold","titleColor":"#333333","titlePadding":6}},
  "y":{"field":"m","type":"ordinal","sort":null,"title":"Milepost","scale":{"paddingInner":0,"paddingOuter":0},
       "axis":{"domain":false,"ticks":false,"labelPadding":3,"labelFontSize":10,"labelColor":"#666666","titleFontSize":12,"titleFontWeight":"bold","titleColor":"#333333","titlePadding":4}},
  "color":{"field":"v","type":"quantitative","legend":null,
       "scale":{"type":"linear","domain":[0,8,12,18,42,65],"range":["#ffffff","#f8ef30","#f5bc3a","#ef8a3f","#e81010","#c00000"],"interpolate":"rgb"}}
 }},
{"mark":{"type":"text","fontSize":10,"color":"#666666","baseline":"middle","align":"center"},
 "encoding":{
  "x":{"field":"t","type":"ordinal","sort":null},
  "y":{"field":"m","type":"ordinal","sort":null},
  "text":{"field":"v","type":"quantitative"}
 }}
]},
{"data":{"values":[{}]},
 "mark":{"type":"rule","color":"#c4c4c4","strokeWidth":1},
 "encoding":{"y":{"datum":"46__ 64.2","type":"ordinal","bandPosition":0}}}
]
},
{
"width":608,"height":73,
"data":{"values":[{}]},
"layer":[
{"mark":{"type":"rect","fill":{"gradient":"linear","x1":0,"y1":0,"x2":0,"y2":1,"stops":[{"offset":0,"color":"#f8f8f8"},{"offset":1,"color":"#e6e6e6"}]},"stroke":"#c4c4c4","strokeWidth":1},
 "encoding":{
  "x":{"datum":-5.17,"type":"quantitative","scale":{"domain":[-20.45,84.4],"nice":false,"zero":false},"axis":null},
  "x2":{"datum":68.6},
  "y":{"datum":0,"type":"quantitative","scale":{"domain":[0,73],"nice":false,"zero":false},"axis":null},
  "y2":{"datum":73}
 }},
{"mark":{"type":"rect","fill":{"gradient":"linear","x1":0,"y1":0,"x2":1,"y2":0,"stops":[{"offset":0,"color":"#ffffff"},{"offset":0.09,"color":"#f8ef30"},{"offset":0.18,"color":"#f5bc3a"},{"offset":0.3,"color":"#ef8a3f"},{"offset":0.646,"color":"#e81010"},{"offset":1,"color":"#c00000"}]},"stroke":"#dddddd","strokeWidth":0.5},
 "encoding":{"x":{"datum":0,"type":"quantitative"},"x2":{"datum":65},"y":{"datum":28,"type":"quantitative"},"y2":{"datum":43}}},
{"mark":{"type":"rect","fill":"#ffffff","opacity":0.25},
 "encoding":{"x":{"datum":0,"type":"quantitative"},"x2":{"datum":65},"y":{"datum":36,"type":"quantitative"},"y2":{"datum":43}}},
{"mark":{"type":"rule","color":"#555555","strokeWidth":1},
 "encoding":{"x":{"datum":0,"type":"quantitative"},"x2":{"datum":65},"y":{"datum":24,"type":"quantitative"}}},
{"data":{"values":[{"v":0},{"v":7},{"v":14},{"v":21},{"v":28},{"v":35},{"v":42},{"v":65}]},
 "mark":{"type":"rule","color":"#555555","strokeWidth":1.5},
 "encoding":{"x":{"field":"v","type":"quantitative"},"y":{"datum":24,"type":"quantitative"},"y2":{"datum":19}}},
{"data":{"values":[{"v":0},{"v":7},{"v":14},{"v":21},{"v":28},{"v":35},{"v":42},{"v":65}]},
 "mark":{"type":"text","fontSize":10,"color":"#666666","baseline":"middle","align":"center"},
 "encoding":{"x":{"field":"v","type":"quantitative"},"y":{"datum":11,"type":"quantitative"},"text":{"field":"v","type":"quantitative"}}},
{"mark":{"type":"text","text":"mph","fontSize":11,"fontWeight":"bold","color":"#333333","baseline":"middle","align":"center"},
 "encoding":{"x":{"datum":32.5,"type":"quantitative"},"y":{"datum":59,"type":"quantitative"}}},
{"mark":{"type":"text","text":"Good","fontSize":10,"color":"#777777","baseline":"middle","align":"right","dx":-1},
 "encoding":{"x":{"datum":0,"type":"quantitative"},"y":{"datum":35.5,"type":"quantitative"}}},
{"mark":{"type":"text","text":"Bad","fontSize":10,"color":"#777777","baseline":"middle","align":"left","dx":1},
 "encoding":{"x":{"datum":65,"type":"quantitative"},"y":{"datum":35.5,"type":"quantitative"}}},
{"mark":{"type":"rule","color":"#666666","strokeWidth":2},
 "encoding":{"x":{"datum":0,"type":"quantitative"},"y":{"datum":22,"type":"quantitative"},"y2":{"datum":41}}},
{"mark":{"type":"rule","color":"#666666","strokeWidth":2},
 "encoding":{"x":{"datum":65,"type":"quantitative"},"y":{"datum":22,"type":"quantitative"},"y2":{"datum":41}}},
{"mark":{"type":"rect","fill":"#aaaaaa","stroke":"#888888","strokeWidth":1},
 "encoding":{"x":{"datum":-0.86,"type":"quantitative"},"x2":{"datum":0.86},"y":{"datum":40,"type":"quantitative"},"y2":{"datum":54}}},
{"mark":{"type":"rect","fill":"#aaaaaa","stroke":"#888888","strokeWidth":1},
 "encoding":{"x":{"datum":64.14,"type":"quantitative"},"x2":{"datum":65.86},"y":{"datum":40,"type":"quantitative"},"y2":{"datum":54}}}
]
}
]
}
